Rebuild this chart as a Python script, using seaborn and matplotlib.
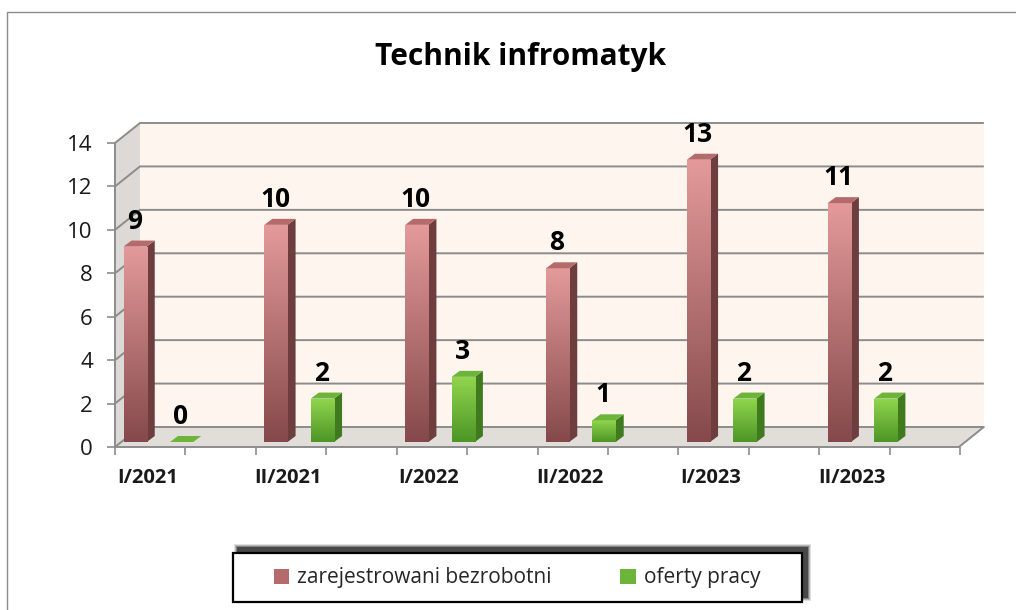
import numpy as np
import pandas as pd
import matplotlib
matplotlib.use('Agg')
from matplotlib import pyplot as plt
from matplotlib.patches import Polygon, Rectangle
from matplotlib.lines import Line2D
from matplotlib.colors import LinearSegmentedColormap
import matplotlib.transforms as mtransforms
import seaborn as sns

# Data
categories = ['I/2021', 'II/2021', 'I/2022', 'II/2022', 'I/2023', 'II/2023']
zarejestrowani = [9, 10, 10, 8, 13, 11]
oferty = [0, 2, 3, 1, 2, 2]
series_names = ['zarejestrowani bezrobotni', 'oferty pracy']
y_ticks = [0, 2, 4, 6, 8, 10, 12, 14]

df = pd.DataFrame({
    'okres': categories * 2,
    'liczba': zarejestrowani + oferty,
    'seria': [series_names[0]] * len(categories) + [series_names[1]] * len(categories),
})

sns.set_style('white')
plt.rcParams['font.family'] = ['Open Sans', 'DejaVu Sans']

fig = plt.figure(figsize=(10.16, 6.10), dpi=100)
ax = fig.add_axes([115 / 1016, 163 / 610, 845 / 1016, 304 / 610])

palette = {series_names[0]: '#c07676', series_names[1]: '#6cb33a'}
sns.barplot(data=df, x='okres', y='liczba', hue='seria', palette=palette,
            width=0.66, gap=0.5, ax=ax, zorder=5)

handles, labels = ax.get_legend_handles_labels()
ax.get_legend().remove()

xmin, xmax = -0.308, 5.684
ax.set_xlim(xmin, xmax)
ax.set_ylim(0, 14)
for s in ax.spines.values():
    s.set_visible(False)
ax.patch.set_alpha(0)

# 3D depth of the plot box, in pixels
DX, DY = 25, 20


def shift(x, y, dx, dy):
    px, py = ax.transData.transform((x, y))
    return ax.transData.inverted().transform((px + dx, py + dy))


grid_col = '#8c8c8c'

# back wall
wall = [shift(xmin, 0, DX, DY), shift(xmax, 0, DX, DY),
        shift(xmax, 14, DX, DY), shift(xmin, 14, DX, DY)]
ax.add_patch(Polygon(wall, closed=True, facecolor='#fdf5ee', edgecolor='none', zorder=0,
                     clip_on=False))
# left wall
lwall = [(xmin, 0), shift(xmin, 0, DX, DY), shift(xmin, 14, DX, DY), (xmin, 14)]
ax.add_patch(Polygon(lwall, closed=True, facecolor='#dcd9d6', edgecolor='none', zorder=0,
                     clip_on=False))
# floor
floor = [(xmin, 0), (xmax, 0), shift(xmax, 0, DX, DY), shift(xmin, 0, DX, DY)]
ax.add_patch(Polygon(floor, closed=True, facecolor='#e1ddd9', edgecolor='none', zorder=1,
                     clip_on=False))

# gridlines on walls
for t in y_ticks:
    a = shift(xmin, t, DX, DY)
    b = shift(xmax, t, DX, DY)
    ax.plot([xmin, a[0], b[0]], [t, a[1], b[1]], color=grid_col, lw=1.4, zorder=2,
            solid_capstyle='butt', clip_on=False)
# front edges
ax.plot([xmin, xmin], [0, 14], color=grid_col, lw=1.4, zorder=2, clip_on=False)
c = shift(xmax, 0, DX, DY)
ax.plot([xmin, xmax, c[0]], [0, 0, c[1]], color=grid_col, lw=1.4, zorder=6, clip_on=False)

# bars with gradient and 3D faces
bar_off = mtransforms.ScaledTranslation(0, 5 / 100, fig.dpi_scale_trans)
BX, BY = 8, 6
styles = [
    dict(top='#e49a9a', bottom='#85494b', side='#6e3d3e', cap='#b56b6b'),
    dict(top='#92d64e', bottom='#4c9526', side='#3f7a1f', cap='#6db53a'),
]
grad = np.linspace(1, 0, 256).reshape(-1, 1)
for k, cont in enumerate(ax.containers):
    st = styles[k]
    cmap = LinearSegmentedColormap.from_list('g%d' % k, [st['bottom'], st['top']])
    for p, v in zip(cont.patches, [zarejestrowani, oferty][k]):
        x0, w, h = p.get_x(), p.get_width(), p.get_height()
        p.set_transform(ax.transData + bar_off)
        p.set_facecolor('none')
        p.set_edgecolor('none')
        if h > 0:
            im = ax.imshow(grad, cmap=cmap, extent=[x0, x0 + w, 0, h], aspect='auto',
                           interpolation='bilinear', transform=ax.transData + bar_off, zorder=5)
            im.set_clip_path(p)
        side = [shift(x0 + w, 0, 0, 5), shift(x0 + w, h, 0, 5),
                shift(x0 + w, h, BX, 5 + BY), shift(x0 + w, 0, BX, 5 + BY)]
        ax.add_patch(Polygon(side, closed=True, facecolor=st['side'], edgecolor='none', zorder=4))
        cap = [shift(x0, h, 0, 5), shift(x0 + w, h, 0, 5),
               shift(x0 + w, h, BX, 5 + BY), shift(x0, h, BX, 5 + BY)]
        ax.add_patch(Polygon(cap, closed=True, facecolor=st['cap'], edgecolor='none', zorder=6))
        ax.annotate(str(v), xy=(x0 + w / 2, h), xytext=(-1, 23), textcoords='offset pixels',
                    ha='center', va='baseline', fontsize=19, fontweight='bold', color='black',
                    zorder=7, annotation_clip=False)

ax.set_xlim(xmin, xmax)
ax.set_ylim(0, 14)

# axes ticks
ax.set_yticks(y_ticks)
ax.set_yticklabels([str(t) for t in y_ticks], fontsize=16, color='#1a1a1a')
ax.tick_params(axis='y', length=6, width=1.2, color=grid_col, pad=10, left=True)
ax.set_xticks(np.arange(len(categories)) - 0.078)
ax.set_xticklabels(categories, fontsize=14.5, fontweight='bold', color='#1a1a1a')
ax.set_xticks(xmin + 0.5 * np.arange(13), minor=True)
ax.tick_params(axis='x', which='major', length=0, pad=15)
ax.tick_params(axis='x', which='minor', length=6, width=1.2, color=grid_col, bottom=True)
ax.set_xlabel('')
ax.set_ylabel('')

# title
fig.text(521 / 1016, 1 - 57 / 610, 'Technik infromatyk', ha='center', va='center',
         fontsize=21.5, fontweight='bold', color='black')

# legend box with soft shadow (up and to the right)
bx0, by0, bx1, by1 = 233, 553, 802, 602
for i, a in enumerate([0.12, 0.18, 0.28, 0.45]):
    g = 4 - i
    fig.add_artist(Rectangle(((bx0 + 5 - g) / 1016, 1 - (by1 - 5 + g) / 610),
                             (bx1 - bx0 + 2 * g) / 1016, (by1 - by0 + 2 * g) / 610,
                             transform=fig.transFigure, facecolor='black', edgecolor='none',
                             alpha=a, zorder=1))
fig.add_artist(Rectangle((bx0 / 1016, 1 - by1 / 610), (bx1 - bx0) / 1016, (by1 - by0) / 610,
                         transform=fig.transFigure, facecolor='white', edgecolor='black',
                         lw=1.6, zorder=2))

leg = fig.legend(handles, labels, loc='center', bbox_to_anchor=(517 / 1016, 1 - 578 / 610),
                 ncol=2, fontsize=15, frameon=False, handlelength=0.73, handleheight=0.73,
                 handletextpad=0.4, columnspacing=3.3, borderpad=0.3)
leg.set_zorder(3)
for hnd, st in zip(leg.legend_handles, styles):
    hnd.set_facecolor(st['cap'])
    hnd.set_edgecolor('none')

# chart border (top and left edges)
fig.add_artist(Line2D([7 / 1016, 7 / 1016, 1.0], [0.0, 1 - 12 / 610, 1 - 12 / 610],
                      transform=fig.transFigure, color='#8c8c8c', lw=1))

fig.savefig('out.png', dpi=100)
